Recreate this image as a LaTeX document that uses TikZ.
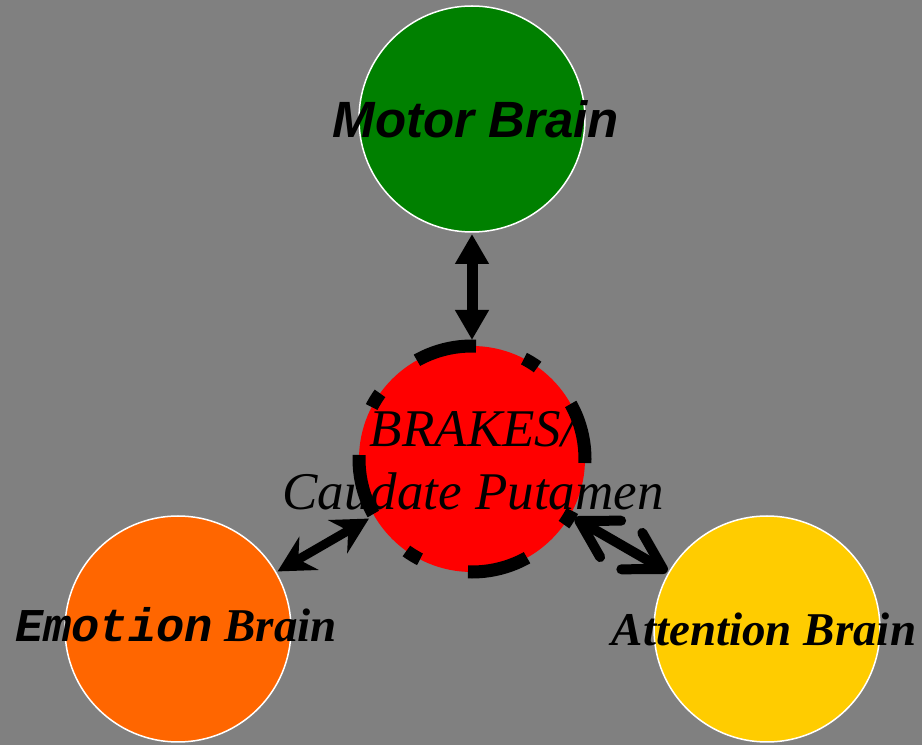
\documentclass[tikz,border=0pt]{standalone}
\usepackage{fontspec}
\setmainfont{Liberation Serif}
\newfontfamily\arialfont{Liberation Sans}
\newfontfamily\courierfont{Liberation Mono}
\usepackage{tikz}
\usetikzlibrary{arrows.meta}
\definecolor{bg}{HTML}{808080}
\definecolor{motorgreen}{HTML}{008000}
\definecolor{emoorange}{HTML}{FF6600}
\definecolor{attyellow}{HTML}{FFCC00}
\tikzstyle{bn}=[circle,draw=white,line width=1.5pt,minimum size=226pt,inner sep=0pt,outer sep=2pt]
\tikzstyle{tx}=[inner sep=0pt,anchor=base]
\tikzstyle{ring}=[line width=13pt,dash pattern=on 61.5pt off 50pt on 16pt off 50pt,dash phase=4pt]
\begin{document}
\begin{tikzpicture}[x=1pt,y=1pt]
      \fill [bg] (0,0) rectangle (922,745);
      \useasboundingbox (0,0) rectangle (922,745);
      \node [bn, fill=motorgreen] (motor) at (472,626) {};
      \node [bn, fill=emoorange] (emotion) at (178,116) {};
      \node [bn, fill=attyellow] (attention) at (767,116) {};
      \node [bn, draw=none, fill=red, outer sep=6pt] (brakes) at (472,286) {};
      \node [tx, font=\arialfont\bfseries\itshape\fontsize{51}{61}\selectfont] (motortxt) at (476,607) {Motor Brain};
      \node [tx, align=center, font=\itshape\fontsize{53}{63}\selectfont] (brakestxt) at (473,235) {BRAKES/\\Caudate Putamen};
      \node [tx, font=\bfseries\itshape\fontsize{47}{56}\selectfont] (emotiontxt) at (176,103) {{\courierfont Emotion} Brain};
      \node [tx, font=\bfseries\itshape\fontsize{47}{56}\selectfont] (attentiontxt) at (764,99) {Attention Brain};
      \draw [ring] (brakes.center) circle (113);
      \draw [line width=11pt, {Triangle[length=30pt,width=32pt]}-{Triangle[length=30pt,width=32pt]}] (motor) -- (brakes);
      \draw [line width=9pt, {Stealth[length=36pt,width=38pt,inset=12pt]}-{Stealth[length=36pt,width=38pt,inset=12pt]}] (emotion) -- (brakes);
      \draw [line width=10pt, line cap=round, {Straight Barb[length=36pt,width=42pt,round]}-{Straight Barb[length=36pt,width=42pt,round]}] (attention) -- (brakes);
\end{tikzpicture}
\end{document}
